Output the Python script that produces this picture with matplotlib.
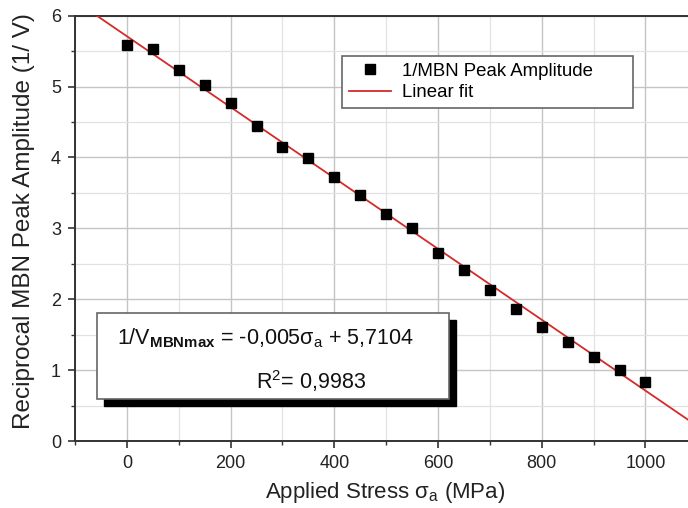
import matplotlib
matplotlib.use("Agg")
import matplotlib.pyplot as plt
from matplotlib.patches import Rectangle
from matplotlib.ticker import MultipleLocator
import numpy as np

plt.rcParams['font.family'] = ['Liberation Sans', 'DejaVu Sans']
plt.rcParams['mathtext.fontset'] = 'custom'
plt.rcParams['mathtext.rm'] = 'Liberation Sans'
plt.rcParams['mathtext.bf'] = 'Liberation Sans:bold'
plt.rcParams['mathtext.it'] = 'Liberation Sans:italic'

# Data
stress = [0, 50, 100, 150, 200, 250, 300, 350, 400, 450, 500,
          550, 600, 650, 700, 750, 800, 850, 900, 950, 1000]
recip_amp = [5.58, 5.53, 5.23, 5.02, 4.77, 4.44, 4.15, 3.99, 3.72, 3.47, 3.20,
             3.00, 2.65, 2.41, 2.13, 1.86, 1.61, 1.40, 1.18, 1.00, 0.83]
fit_slope = -0.005
fit_intercept = 5.7104
fit_x = [-100, 1100]
r_squared = "0,9983"

W, H = 688, 508
fig = plt.figure(figsize=(W / 100, H / 100), dpi=100)
ax = fig.add_axes([75 / W, (H - 441) / H, (W - 75) / W, (441 - 15.7) / H])

ax.set_xlim(-100, 1082)
ax.set_ylim(0, 6)

ax.xaxis.set_major_locator(MultipleLocator(200))
ax.xaxis.set_minor_locator(MultipleLocator(100))
ax.yaxis.set_major_locator(MultipleLocator(1))
ax.yaxis.set_minor_locator(MultipleLocator(0.5))

ax.grid(True, which='major', color='#c4c4c4', linewidth=1.0)
ax.grid(True, which='minor', color='#e2e2e2', linewidth=0.9)
ax.set_axisbelow(True)

for s in ['left', 'bottom', 'top']:
    ax.spines[s].set_color('#333333')
    ax.spines[s].set_linewidth(1.4)
ax.spines['right'].set_visible(False)

ax.tick_params(which='major', direction='out', length=5, width=1.2, colors='#333333',
               labelsize=13, labelcolor='#222222', pad=5)
ax.tick_params(which='minor', direction='out', length=3, width=1.0, colors='#333333')
ax.tick_params(top=False, which='both')

fx = np.array(fit_x, dtype=float)
ax.plot(fx, fit_slope * fx + fit_intercept, color='#d42a2a', linewidth=1.3,
        label='Linear fit', zorder=3)
ax.plot(stress, recip_amp, linestyle='none', marker='s', markersize=6.5,
        color='black', label='1/MBN Peak Amplitude', zorder=4)

handles, labels = ax.get_legend_handles_labels()
leg = fig.legend(handles[::-1], labels[::-1],
                 loc='upper left',
                 bbox_to_anchor=(342 / W, (H - 56) / H, (633 - 342) / W, 0.0),
                 mode='expand', fontsize=13.4, frameon=True, fancybox=False,
                 framealpha=1, edgecolor='#666666', borderpad=0.35,
                 handlelength=2.3, handletextpad=0.6, labelspacing=0.25,
                 borderaxespad=0)
leg.get_frame().set_linewidth(1.2)

ax.set_xlabel(r'Applied Stress σ$_{\mathrm{a}}$ (MPa)', fontsize=16, color='#222222')
ax.xaxis.set_label_coords(385 / W, (H - 498) / H, transform=fig.transFigure)
ax.set_ylabel('Reciprocal MBN Peak Amplitude (1/ V)', fontsize=17.5, color='#222222')
ax.yaxis.set_label_coords(24 / W, (H - 221) / H, transform=fig.transFigure)
ax.xaxis.label.set_va('baseline')
ax.yaxis.label.set_va('center')

# Equation box with shadow
bx0, by0, bx1, by1 = 97, 313, 449, 399
off = 7
fig.patches.append(Rectangle(((bx0 + off) / W, (H - by1 - off) / H),
                             (bx1 - bx0) / W, (by1 - by0) / H,
                             transform=fig.transFigure, facecolor='black',
                             edgecolor='black', zorder=5))
fig.patches.append(Rectangle((bx0 / W, (H - by1) / H),
                             (bx1 - bx0) / W, (by1 - by0) / H,
                             transform=fig.transFigure, facecolor='white',
                             edgecolor='#666666', linewidth=1.2, zorder=6))
fig.text(266 / W, (H - 338) / H,
         r'1/V$_{\mathbf{MBNmax}}$ = -0,005σ$_{\mathrm{a}}$ + 5,7104',
         ha='center', va='center', fontsize=15.5, color='#111111', zorder=7)
fig.text(311 / W, (H - 381) / H, r'R$^{2}$= ' + r_squared,
         ha='center', va='center', fontsize=15.5, color='#111111', zorder=7)

fig.savefig('out.png', dpi=100)
